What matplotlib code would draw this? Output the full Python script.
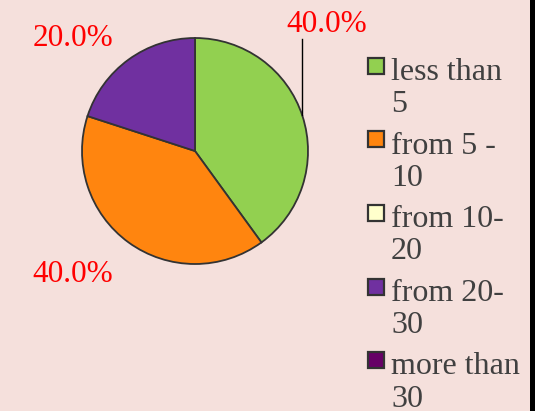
import matplotlib
matplotlib.use("Agg")
import matplotlib.pyplot as plt
from matplotlib.patches import Rectangle

categories = ["less than\n5", "from 5 -\n10", "from 10-\n20", "from 20-\n30", "more than\n30"]
values = [40, 40, 0, 20, 0]
colors = ["#92D050", "#FF850F", "#FFFFCC", "#7030A0", "#660066"]

W, H = 535, 411
BG = "#F5E0DC"
fig = plt.figure(figsize=(W / 100, H / 100), dpi=100, facecolor=BG)

def fx(px):
    return px / W

def fy(py):
    return 1 - py / H

# pie
cx, cy, r = 195, 151, 113
ax = fig.add_axes([fx(cx - r), fy(cy + r), 2 * r / W, 2 * r / H])
ax.set_facecolor("none")
nz = [(v, c) for v, c in zip(values, colors) if v > 0]
wedges, _ = ax.pie([v for v, _ in nz], colors=[c for _, c in nz], startangle=90,
                   counterclock=False, radius=1,
                   wedgeprops=dict(edgecolor="#333333", linewidth=1.3))
ax.set_xlim(-1, 1)
ax.set_ylim(-1, 1)
ax.set_aspect("equal")
ax.axis("off")

total = sum(values)
font = "Liberation Serif"
label_pos = {0: (327, 32), 1: (73, 281.5), 3: (73, 45.5)}
for i, v in enumerate(values):
    if v <= 0:
        continue
    x, y = label_pos[i]
    fig.text(fx(x), fy(y), f"{v / total * 100:.1f}%", ha="center", va="baseline",
             color="red", fontsize=22.5, family=font)

# leader line for top label
fig.add_artist(plt.Line2D([fx(302), fx(302)], [fy(39), fy(115)], color="black", lw=1.0))

# legend
LS = 36.5
fs = 23
for i, (lab, c) in enumerate(zip(categories, colors)):
    base = 75.7 + i * 73.6
    sq_c = base - 10
    fig.add_artist(Rectangle((fx(367.5), fy(sq_c + 8)), 16 / W, 16 / H, facecolor=c,
                             edgecolor="#333333", linewidth=1.6))
    nlines = lab.count("\n")
    fig.text(fx(391), fy(base + nlines * LS), lab, ha="left", va="baseline", color="#404040",
             fontsize=fs, family=font, linespacing=LS / (fs * 100 / 72))

# black strip on right
fig.add_artist(Rectangle((fx(530), 0), 5 / W, 1, facecolor="black", edgecolor="none"))

fig.savefig("out.png", dpi=100, facecolor=BG)
